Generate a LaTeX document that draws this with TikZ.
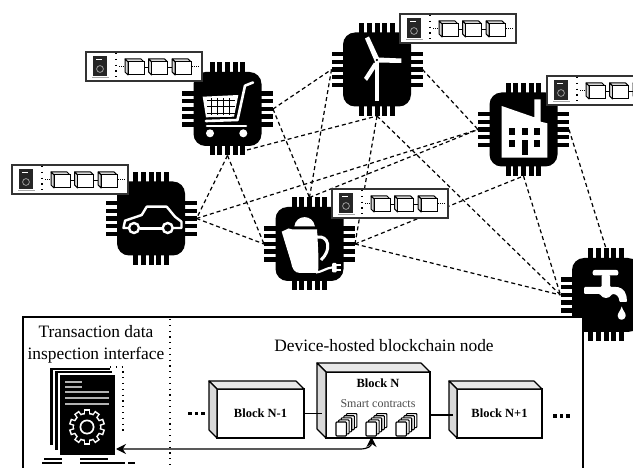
\documentclass[tikz,border=0pt]{standalone}
\usepackage{fontspec}
\setmainfont{Liberation Serif}
\usetikzlibrary{positioning,arrows.meta}
\definecolor{sidegray}{gray}{0.85}
\tikzset{
  chipbody/.style={fill=black,rounded corners=12pt,minimum width=68pt,minimum height=74pt,inner sep=0pt,outer sep=0pt},
  meshlink/.style={line width=1.2pt,dash pattern=on 4pt off 3pt},
  sparsedots/.style={line width=1.2pt,dash pattern=on 1.2pt off 4.6pt},
  blockface/.style={draw=black,fill=white,line width=1.2pt,inner sep=0pt,outer sep=0pt},
  blockside/.style={draw=black,fill=sidegray,line width=1.2pt,line join=round},
  blocktop/.style={draw=black,fill=sidegray!60,line width=1.2pt,line join=round},
  blockname/.style={font=\fontsize{12.5}{14}\selectfont\bfseries},
  bigtitle/.style={font=\fontsize{17.4}{22}\selectfont,align=center},
  gearicon/.pic={
    \foreach \a in {0,36,...,324}{
      \fill[white,rotate=\a] (-3,-18) rectangle (3,-11);
    }
    \fill[white] (0,0) circle (14.5);
    \foreach \a in {0,36,...,324}{
      \fill[black,rotate=\a] (-1.6,-16.4) rectangle (1.6,-11);
    }
    \fill[black] (0,0) circle (13);
    \fill[white] (0,0) circle (7.5);
    \fill[black] (0,0) circle (5.7);
  },
  ledger/.pic={
    \draw[fill=white,line width=1.3pt,draw=black!80] (0,0) rectangle (116,29);
    % small document
    \fill[black!85] (7,4) rectangle (21,24);
    \fill[gray!70] (6,25) rectangle (23,26);
    \fill[white] (10,7) rectangle (16,8);
    \draw[gray!80,line width=0.8pt] (14,17) circle (3.4);
    \draw[sparsedots] (30,1) -- (30,28);
    \draw[densely dotted,line width=1pt] (33,15) -- (39,15);
    \draw[densely dotted,line width=1pt] (106,15) -- (113,15);
    \draw[line width=1pt] (58,16) -- (62,16);
    \draw[line width=1pt] (82,16) -- (86,16);
    \foreach \k in {0,1,2}{
      \begin{scope}[xshift=\k*23.6pt]
        \draw[fill=sidegray,line width=1pt,line join=round] (39,7) -- (55,7) -- (58,10) -- (42,10) -- cycle;
        \draw[fill=sidegray,line width=1pt,line join=round] (39,7) -- (42,10) -- (42,23) -- (39,20) -- cycle;
        \draw[fill=white,line width=1pt] (42,10) rectangle (58,23);
      \end{scope}
    }
  },
  contracts/.pic={
    \foreach \k in {4,3,2,1,0}{
      \draw[fill=white,line width=1.1pt,rounded corners=0.8pt] (\k*2.6,-\k*2.1) rectangle (\k*2.6+10.5,-\k*2.1+14);
    }
  }
}
\newcommand{\chip}[3]{
  \node[chipbody] (#1) at (#2,#3) {};
  \foreach \i in {-2,...,2}{
    \fill (#2+\i*7.6-2.5,#3-46.5) rectangle (#2+\i*7.6+2.5,#3);
    \fill (#2+\i*7.6-2.5,#3+46.5) rectangle (#2+\i*7.6+2.5,#3);
    \fill (#2-45.5,#3+\i*7.7-2.2) rectangle (#2,#3+\i*7.7+2.2);
    \fill (#2+45.5,#3+\i*7.7-2.2) rectangle (#2,#3+\i*7.7+2.2);
  }
  \coordinate (#1n) at (#2,#3-46.5);
  \coordinate (#1s) at (#2,#3+46.5);
  \coordinate (#1w) at (#2-45.5,#3);
  \coordinate (#1e) at (#2+45.5,#3);
}
\begin{document}
\begin{tikzpicture}[x=1pt,y=-1pt]
\useasboundingbox (0,0) rectangle (633,468);
\chip{cart}{227.5}{109}
\chip{turbine}{377}{69.5}
\chip{factory}{523.5}{129.5}
\chip{car}{151}{218.5}
\chip{kettle}{309.5}{244}
\chip{faucet}{606}{295}
\coordinate (cartb) at (247,150);
% cart
\fill[white] (202.7,96.7) -- (238.3,95) -- (234,116.7) -- (206,117.3) -- cycle;
\foreach \y in {100,106.7,113.5}{
  \draw[black,line width=0.9pt] (207,\y) -- (235,\y);
}
\foreach \x in {211,217,223,229}{
  \draw[black,line width=0.9pt] (\x,98.5) -- (\x,115);
}
\draw[white,line width=2.6pt,line join=round,line cap=round] (253,82.5) -- (245,85.7) -- (237.5,120) -- (206,121);
\draw[white,line width=2.6pt,line cap=round] (207,126) -- (246,126);
\fill[white] (210,133.3) circle (4);
\fill[white] (243.3,133.3) circle (4);
% turbine
\fill[white] (365,38.5) -- (369,36.5) -- (379,58) -- (375,62) -- cycle;
\fill[white] (378,57.5) -- (401.3,58.5) -- (401.3,63) -- (378,62.5) -- cycle;
\fill[white] (364,78) -- (374,62.5) -- (377.5,65) -- (367,81) -- cycle;
\fill[white] (374.8,60) rectangle (378.8,101);
\fill[black] (376.8,60) circle (1.2);
% factory
\fill[white] (501.7,106) -- (534.3,117.3) -- (534.3,99.3) -- (540.7,99.3) -- (540.7,121.7) -- (547.3,123.3) -- (547.3,157.7) -- (501.7,157.7) -- cycle;
\foreach \x in {509,521.7,534}{
  \fill[black] (\x,127.7) rectangle (\x+6,135);
}
\fill[black] (509,140) rectangle (515,147.3);
\fill[black] (534,140) rectangle (540,147.3);
\fill[black] (521.7,140) rectangle (527.7,155);
% car
\draw[white,line width=2.4pt,line join=round] (129,228) -- (123.5,228) -- (125,220.7) -- (141.7,215) -- (146.7,206.7) -- (166.7,206.7) -- (175,216.7) -- (181.5,221.7) -- (181.5,228) -- (173,228);
\draw[white,line width=2.4pt] (140,228.5) -- (162,228.5);
\draw[white,line width=2.4pt] (134,228) circle (5);
\draw[white,line width=2.4pt] (167.7,228) circle (5);
% kettle
\fill[white] (281.7,231.7) -- (288.5,228.5) -- (292.5,229.5) -- (317,229.5) .. controls (318,245) and (319,262) .. (318,273) -- (300,273) .. controls (294,273) and (292,268) .. (291,262) -- cycle;
\fill[white] (294.3,226.5) .. controls (296,214) and (313,214) .. (315,226.5) -- cycle;
\draw[white,line width=3pt] (317,237) .. controls (329,235) and (332,250) .. (321,260);
\draw[white,line width=2.2pt] (316,272.5) .. controls (322,272) and (326,268) .. (332,267.5);
\fill[white,rounded corners=1pt] (332,263) rectangle (336.5,272.5);
\draw[white,line width=1.6pt] (336,265) -- (341,265);
\draw[white,line width=1.6pt] (336,270) -- (341,270);
% faucet
\fill[white,rounded corners=2pt] (592.7,270) rectangle (618.3,275.5);
\fill[white,rounded corners=1pt] (584,287) -- (601.7,287) -- (601.7,275) -- (610,275) -- (610,287) -- (617,287) .. controls (624,288) and (627,294) .. (627,302) -- (619.5,302) .. controls (619,296) and (616,294) .. (612,294) .. controls (609,299) and (603,299) .. (600,294) -- (584,294) -- cycle;
\fill[white] (621.7,306.5) .. controls (623,311) and (626,313) .. (625.7,316) .. controls (625,321) and (618,321) .. (617.7,316) .. controls (617.5,313) and (620.5,311) .. (621.7,306.5) -- cycle;
% device mesh
\draw[meshlink] (carte) -- (turbinew);
\draw[meshlink] (carte) -- (kettlen);
\draw[meshlink] (carts) -- (care);
\draw[meshlink] (carts) -- (kettlew);
\draw[meshlink] (cartb) -- (turbines);
\draw[meshlink] (turbinew) -- (kettlen);
\draw[meshlink] (turbinee) -- (factoryw);
\draw[meshlink] (turbines) -- (kettlee);
\draw[meshlink] (turbines) -- (faucetw);
\draw[meshlink] (care) -- (factoryw);
\draw[meshlink] (care) -- (kettlew);
\draw[meshlink] (kettlen) -- (factoryw);
\draw[meshlink] (kettlee) -- (factorys);
\draw[meshlink] (kettlee) -- (faucetw);
\draw[meshlink] (factorys) -- (faucetw);
\draw[meshlink] (factorye) -- (faucetn);
% small ledgers
\pic (cartledger) at (86,52) {ledger};
\pic (turbineledger) at (400,14) {ledger};
\pic (factoryledger) at (547,76) {ledger};
\pic (carledger) at (12,165) {ledger};
\pic (kettleledger) at (332,189) {ledger};
% inspection panel
\node[draw,fill=white,line width=1.2pt,minimum width=560pt,minimum height=170pt,inner sep=0pt,outer sep=0pt,anchor=north west] (panel) at (23,317) {};
\draw[sparsedots] (170,319) -- (170,468);
\node[bigtitle] (inspecttitle) at (96,344.5) {Transaction data\\inspection interface};
\node[bigtitle] (nodetitle) at (384,346) {Device-hosted blockchain node};
% document stack
\fill (50,368) rectangle (110,445);
\fill[white] (52.5,370) rectangle (112,452);
\fill (55,371.5) rectangle (112,450);
\fill[white] (57.5,373.5) rectangle (115,456);
\node[fill=black,minimum width=55pt,minimum height=80pt,inner sep=0pt,outer sep=0pt] (docfront) at (87.5,415) {};
\draw[sparsedots] (110,367) -- (123,367) -- (123,435);
\foreach \y in {382,387}{
  \draw[gray!60,line width=1.4pt] (65,\y) -- (82,\y);
}
\foreach \y in {392,398,404}{
  \draw[gray!60,line width=1.4pt] (65,\y) -- (109,\y);
}
\pic (docgear) at (87,427) {gearicon};
\draw[line width=1.2pt] (44,459) -- (62,459);
\draw[line width=1.2pt] (42,463) -- (62,463);
\draw[line width=1.2pt] (80,459) -- (108,459);
\draw[line width=1.2pt] (80,463) -- (125,463);
\draw[line width=1.2pt] (128,463) -- (135,463);
% chain
\node[blockface,minimum width=87pt,minimum height=49pt] (blockprev) at (260.5,413.5) {};
\node[blockface,minimum width=104pt,minimum height=66pt] (blockcur) at (378,405) {};
\node[blockface,minimum width=85pt,minimum height=49pt] (blocknext) at (499.5,413.5) {};
\foreach \b/\d in {blockprev/8,blockcur/9,blocknext/8}{
  \draw[blocktop] (\b.north west) -- ++(-\d,-\d) -- ([shift={(-\d,-\d)}]\b.north east) -- (\b.north east) -- cycle;
  \draw[blockside] (\b.north west) -- ++(-\d,-\d) -- ([shift={(-\d,-\d)}]\b.south west) -- (\b.south west) -- cycle;
}
\node[blockname] at (blockprev.center) {Block N-1};
\node[blockname] at (blocknext.center) {Block N+1};
\node[blockname] (curlabel) at (378,383) {Block N};
\node[font=\fontsize{12}{14}\selectfont,text=black!70] (contractlabel) at (378,404) {Smart contracts};
\draw[line width=1.2pt] (blockprev.east) -- (322,413.5);
\draw[line width=1.2pt] (430,415) -- (453,415);
\foreach \x in {188,194.5,201}{
  \fill (\x,411.5) rectangle (\x+3.5,415);
}
\foreach \x in {553,559.5,566}{
  \fill (\x,414) rectangle (\x+3.5,417.5);
}
\pic (contractsa) at (336,422) {contracts};
\pic (contractsb) at (366,422) {contracts};
\pic (contractsc) at (396,422) {contracts};
\coordinate (contractsport) at (371.5,437);
\coordinate (docport) at (116,449);
\draw[line width=1.2pt,{Stealth[length=10pt,width=10pt]}-{Stealth[length=10pt,width=10pt]}] (docport) -- (360,449) .. controls (368,449) and (371.5,446) .. (contractsport);
\end{tikzpicture}
\end{document}
